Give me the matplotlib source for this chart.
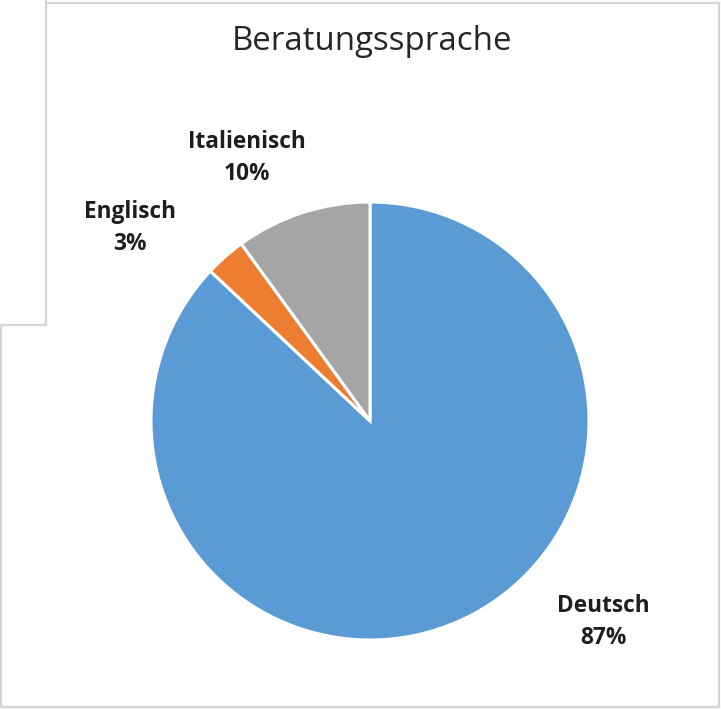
import matplotlib.pyplot as plt
from matplotlib.lines import Line2D

plt.rcParams['font.family'] = ['Open Sans', 'DejaVu Sans']

sprachen = ['Deutsch', 'Englisch', 'Italienisch']
anteile = [87, 3, 10]
farben = ['#5B9BD5', '#ED7D31', '#A5A5A5']
# label anchor positions (unit = pie radius, centre at 0,0)
label_pos = [(1.064, -0.918), (-1.096, 0.881), (-0.562, 1.201)]

W, H = 721, 709
cx, cy, r = 370, 421, 219

fig = plt.figure(figsize=(W / 100, H / 100), dpi=100)
ax = fig.add_axes([0, 0, 1, 1])
ax.pie(anteile, colors=farben, startangle=90, counterclock=False,
       wedgeprops=dict(edgecolor='white', linewidth=2.2))
ax.set_xlim(-cx / r, (W - cx) / r)
ax.set_ylim(-(H - cy) / r, cy / r)
ax.set_aspect('equal')
ax.axis('off')

for name, val, (x, y) in zip(sprachen, anteile, label_pos):
    ax.text(x, y, f'{name}\n{val}%', ha='center', va='center',
            fontsize=16.3, fontweight='bold', color='#1e1e1e', linespacing=1.48)

fig.text(372 / W, 1 - 41 / H, 'Beratungssprache', ha='center', va='center',
         fontsize=23.8, color='#262626')

# grey frame around the chart area
def px_line(xs, ys):
    fig.add_artist(Line2D([x / W for x in xs], [1 - y / H for y in ys],
                          color='#d6d6d6', linewidth=1.6, transform=fig.transFigure))

px_line([46, 46], [0, 325])
px_line([46, 719], [3, 3])
px_line([719, 719], [3, 707])
px_line([1, 719], [707, 707])
px_line([1, 1], [325, 707])
px_line([1, 46], [325, 325])

fig.savefig('out.png', dpi=100, facecolor='white')
